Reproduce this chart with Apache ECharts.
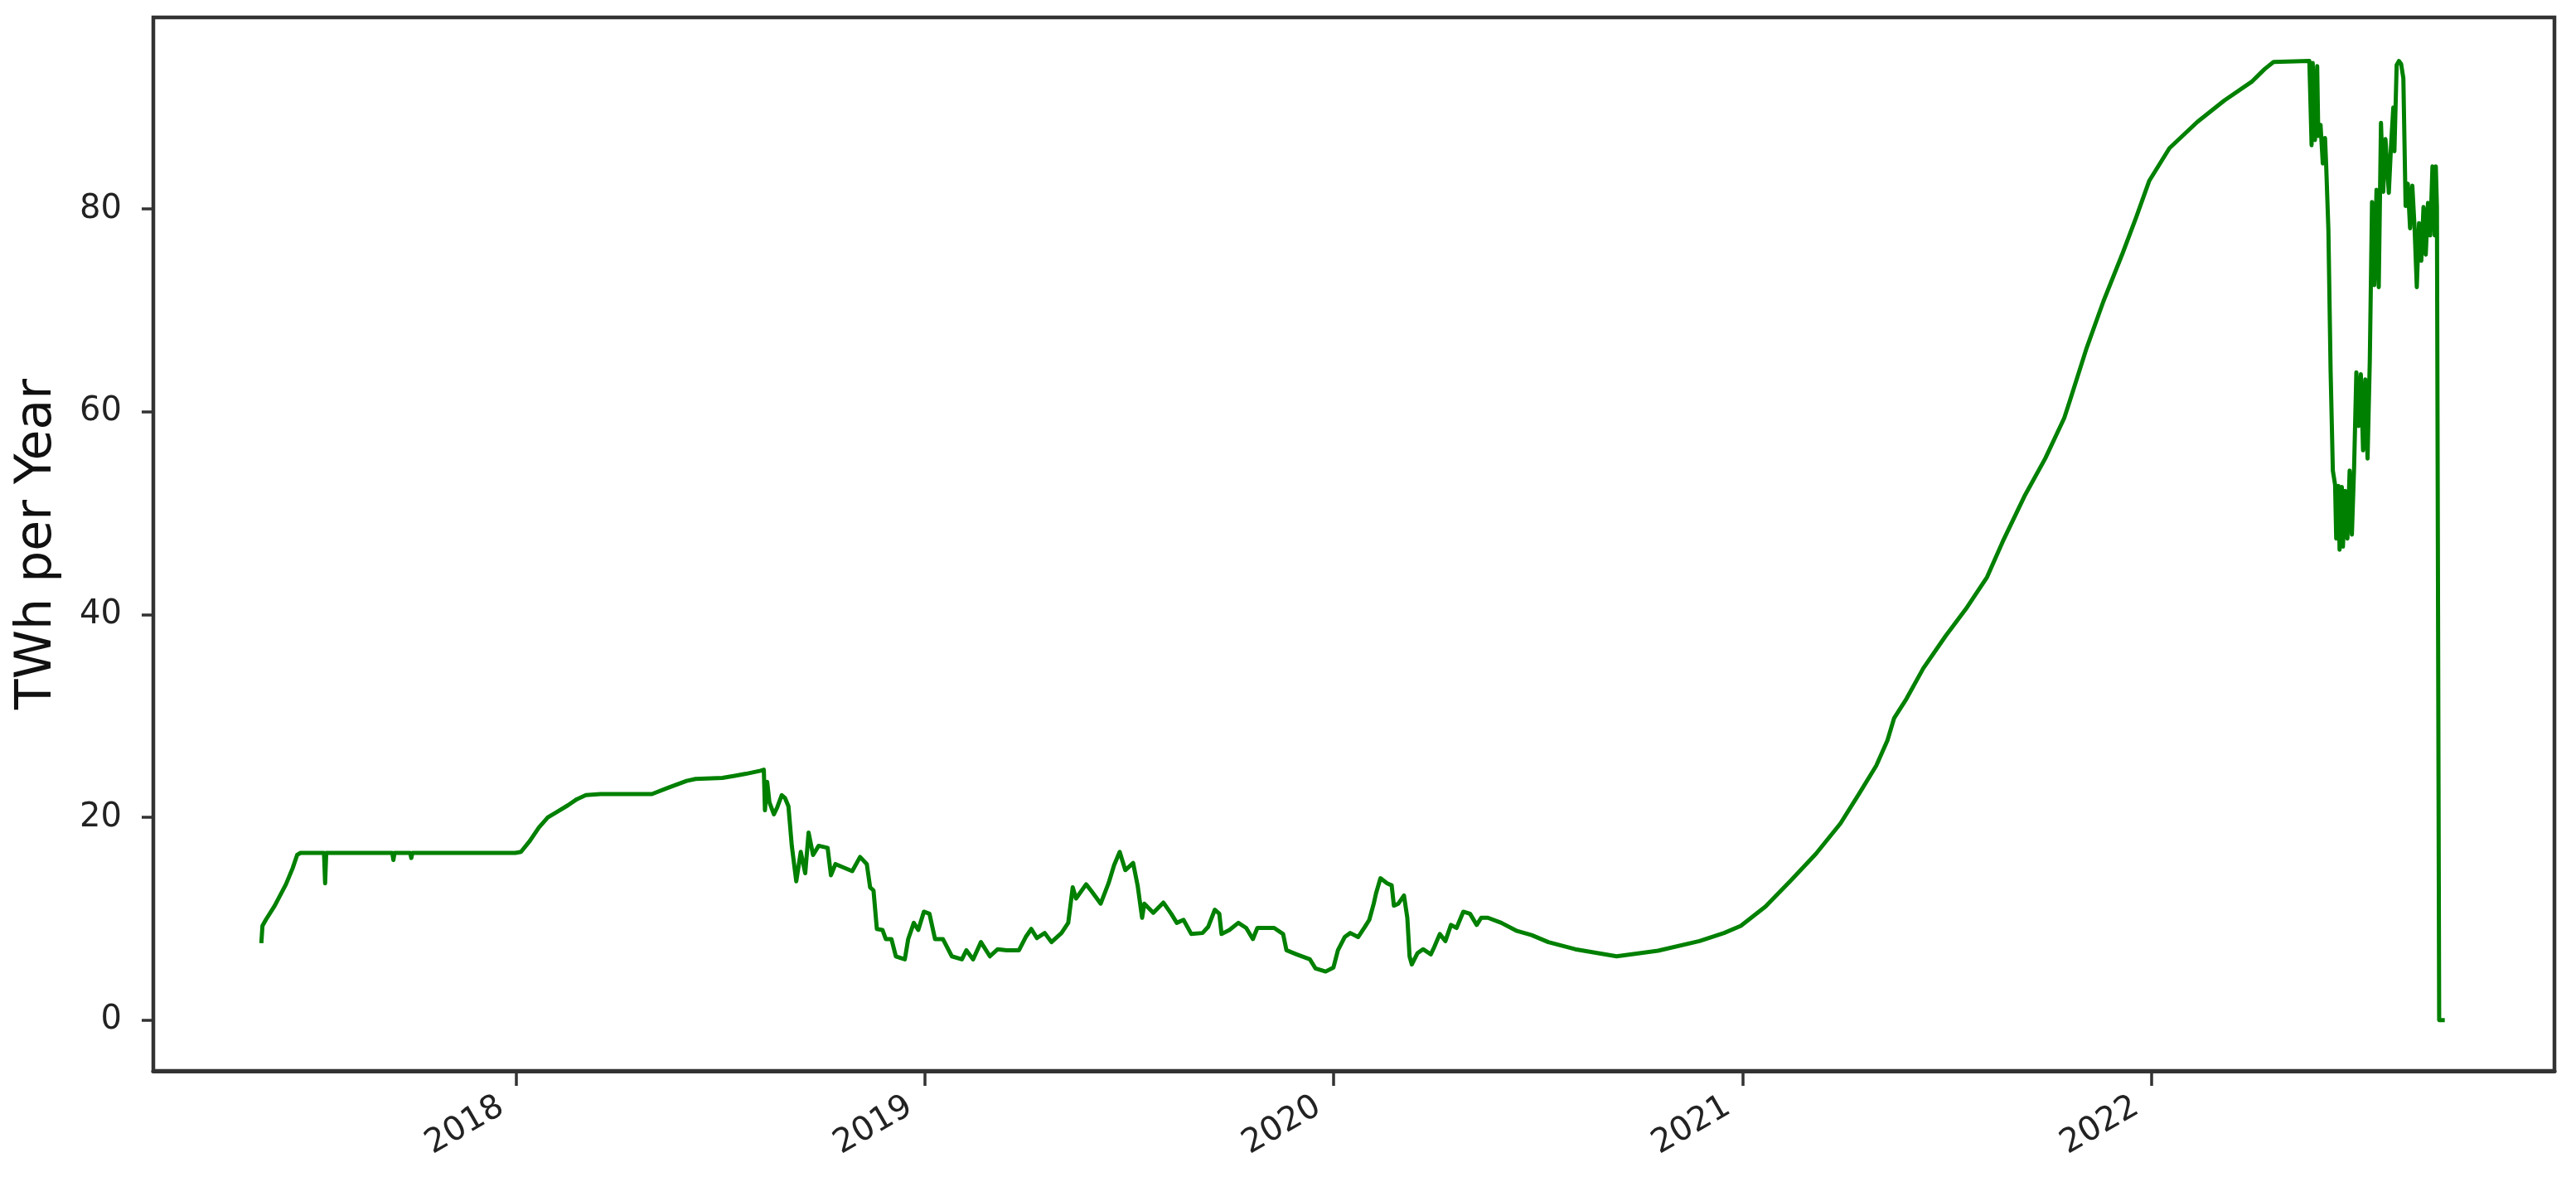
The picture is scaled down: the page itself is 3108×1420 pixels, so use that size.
<!DOCTYPE html>
<html>
<head>
<meta charset="utf-8">
<title>TWh per Year</title>
<script src="https://cdn.jsdelivr.net/npm/echarts@6/dist/echarts.min.js"></script>
<style>
  html, body { margin: 0; padding: 0; background: #fff; }
  #myChart { width: 3108px; height: 1420px; }
</style>
</head>
<body>
<div id="myChart"></div>
<script>
const dates = [
  "2017-05-18", "2017-05-19", "2017-05-22", "2017-05-30", "2017-06-09", "2017-06-15", "2017-06-19", "2017-06-22",
  "2017-07-13", "2017-07-14", "2017-07-15", "2017-09-12", "2017-09-13", "2017-09-14", "2017-09-28", "2017-09-29",
  "2017-09-30", "2017-12-31",
  "2018-01-05", "2018-01-13", "2018-01-21", "2018-01-29", "2018-02-07", "2018-02-16", "2018-02-24", "2018-03-04",
  "2018-03-17", "2018-05-02", "2018-05-16", "2018-06-02", "2018-06-10", "2018-07-04", "2018-07-15", "2018-07-25",
  "2018-08-07", "2018-08-10", "2018-08-11", "2018-08-13", "2018-08-15", "2018-08-19", "2018-08-22", "2018-08-26",
  "2018-08-29", "2018-09-01", "2018-09-04", "2018-09-08", "2018-09-12", "2018-09-16", "2018-09-19", "2018-09-23",
  "2018-09-28", "2018-10-06", "2018-10-09", "2018-10-13", "2018-10-28", "2018-11-04", "2018-11-10", "2018-11-13",
  "2018-11-16", "2018-11-19", "2018-11-24", "2018-11-27", "2018-12-02", "2018-12-06", "2018-12-14", "2018-12-17",
  "2018-12-22", "2018-12-26", "2018-12-31",
  "2019-01-05", "2019-01-10", "2019-01-17", "2019-01-25", "2019-02-03", "2019-02-07", "2019-02-13", "2019-02-20",
  "2019-02-28", "2019-03-07", "2019-03-15", "2019-03-26", "2019-04-01", "2019-04-06", "2019-04-11", "2019-04-18",
  "2019-04-24", "2019-05-03", "2019-05-09", "2019-05-13", "2019-05-16", "2019-05-25", "2019-05-30", "2019-06-07",
  "2019-06-14", "2019-06-19", "2019-06-24", "2019-06-29", "2019-07-06", "2019-07-10", "2019-07-14", "2019-07-16",
  "2019-07-24", "2019-08-02", "2019-08-09", "2019-08-14", "2019-08-20", "2019-08-27", "2019-09-06", "2019-09-11",
  "2019-09-17", "2019-09-21", "2019-09-23", "2019-09-30", "2019-10-08", "2019-10-15", "2019-10-21", "2019-10-25",
  "2019-11-09", "2019-11-17", "2019-11-20", "2019-11-29", "2019-12-11", "2019-12-16", "2019-12-25",
  "2020-01-01", "2020-01-05", "2020-01-11", "2020-01-16", "2020-01-23", "2020-01-29", "2020-02-02", "2020-02-06",
  "2020-02-08", "2020-02-12", "2020-02-18", "2020-02-22", "2020-02-24", "2020-02-28", "2020-03-04", "2020-03-07",
  "2020-03-09", "2020-03-11", "2020-03-16", "2020-03-21", "2020-03-28", "2020-03-31", "2020-04-05", "2020-04-10",
  "2020-04-15", "2020-04-20", "2020-04-26", "2020-05-02", "2020-05-08", "2020-05-12", "2020-05-18", "2020-05-30",
  "2020-06-13", "2020-06-26", "2020-07-11", "2020-08-04", "2020-09-10", "2020-10-17", "2020-11-23", "2020-12-15",
  "2020-12-30",
  "2021-01-21", "2021-02-12", "2021-03-07", "2021-03-29", "2021-04-15", "2021-04-30", "2021-05-10", "2021-05-16",
  "2021-05-27", "2021-06-11", "2021-07-01", "2021-07-20", "2021-08-07", "2021-08-21", "2021-09-10", "2021-09-28",
  "2021-10-15", "2021-10-20", "2021-11-04", "2021-11-19", "2021-12-06", "2021-12-18", "2021-12-30",
  "2022-01-17", "2022-02-11", "2022-03-07", "2022-04-01", "2022-04-12", "2022-04-20", "2022-05-22", "2022-05-24",
  "2022-05-25", "2022-05-27", "2022-05-29", "2022-05-30", "2022-06-01", "2022-06-03", "2022-06-05", "2022-06-06",
  "2022-06-08", "2022-06-10", "2022-06-12", "2022-06-14", "2022-06-15", "2022-06-17", "2022-06-18", "2022-06-20",
  "2022-06-21", "2022-06-23", "2022-06-25", "2022-06-27", "2022-06-29", "2022-07-01", "2022-07-03", "2022-07-05",
  "2022-07-07", "2022-07-09", "2022-07-11", "2022-07-13", "2022-07-15", "2022-07-17", "2022-07-19", "2022-07-21",
  "2022-07-23", "2022-07-25", "2022-07-27", "2022-07-29", "2022-08-01", "2022-08-03", "2022-08-05", "2022-08-06",
  "2022-08-08", "2022-08-10", "2022-08-12", "2022-08-14", "2022-08-16", "2022-08-18", "2022-08-20", "2022-08-22",
  "2022-08-24", "2022-08-26", "2022-08-28", "2022-08-30", "2022-09-01", "2022-09-03", "2022-09-05", "2022-09-07",
  "2022-09-09", "2022-09-11", "2022-09-12", "2022-09-13", "2022-09-15", "2022-09-20"
];

const twh = [
  7.6, 9.3, 9.9, 11.3, 13.4, 15.0, 16.3, 16.5,
  16.5, 13.5, 16.5, 16.5, 15.8, 16.5, 16.5, 16.0,
  16.5, 16.5,
  16.6, 17.7, 19.0, 20.0, 20.6, 21.2, 21.8, 22.2,
  22.3, 22.3, 22.9, 23.6, 23.8, 23.9, 24.1, 24.3,
  24.6, 24.7, 20.7, 23.5, 21.5, 20.3, 21.0, 22.2,
  21.9, 21.1, 17.2, 13.7, 16.6, 14.5, 18.5, 16.3,
  17.2, 17.0, 14.3, 15.4, 14.7, 16.1, 15.4, 13.1,
  12.8, 9.0, 8.9, 8.0, 8.0, 6.3, 6.0, 8.0,
  9.6, 8.9, 10.7,
  10.5, 8.0, 8.0, 6.3, 6.0, 6.9, 6.0, 7.7,
  6.3, 7.0, 6.9, 6.9, 8.2, 9.0, 8.1, 8.6,
  7.7, 8.6, 9.6, 13.1, 12.0, 13.4, 12.7, 11.5,
  13.5, 15.3, 16.6, 14.8, 15.5, 13.3, 10.1, 11.5,
  10.6, 11.6, 10.5, 9.6, 9.9, 8.5, 8.6, 9.2,
  10.9, 10.5, 8.5, 8.9, 9.6, 9.1, 8.0, 9.1,
  9.1, 8.5, 6.9, 6.5, 6.0, 5.1, 4.8,
  5.2, 6.9, 8.2, 8.6, 8.2, 9.2, 9.9, 11.5,
  12.5, 14.0, 13.5, 13.3, 11.3, 11.5, 12.3, 10.1,
  6.3, 5.5, 6.6, 7.0, 6.5, 7.2, 8.5, 7.8,
  9.4, 9.1, 10.7, 10.5, 9.4, 10.1, 10.1, 9.6,
  8.8, 8.4, 7.7, 7.0, 6.3, 6.85, 7.8, 8.6,
  9.3,
  11.2, 13.7, 16.4, 19.4, 22.4, 25.1, 27.6, 29.8,
  31.7, 34.7, 37.9, 40.7, 43.7, 47.2, 51.8, 55.4,
  59.4, 61.1, 66.3, 70.9, 75.6, 79.1, 82.8,
  86.0, 88.6, 90.7, 92.6, 93.8, 94.5, 94.6, 86.3,
  94.4, 86.8, 94.1, 87.2, 88.3, 84.5, 87.0, 84.4,
  78.0, 64.0, 54.2, 52.8, 47.5, 52.7, 46.4, 52.6,
  46.7, 52.2, 47.5, 54.2, 47.9, 54.6, 63.9, 58.6,
  63.7, 56.2, 63.2, 55.4, 65.0, 80.7, 72.5, 81.9,
  72.3, 88.5, 81.7, 86.9, 81.6, 86.3, 90.0, 85.7,
  94.2, 94.6, 94.3, 92.9, 80.3, 82.5, 78.1, 82.3,
  78.2, 72.3, 78.6, 74.9, 80.2, 75.5, 80.6, 77.4,
  84.2, 77.4, 84.2, 80.2, 0.0, 0.0
];

const yearTicks = ["2018-01-01", "2019-01-01", "2020-01-01", "2021-01-01", "2022-01-01"];
const valueTicks = [0, 20, 40, 60, 80];

const toUTC = function(s) {
  return Date.parse(s + "T00:00:00Z");
};

const drawEnergyChart = function() {
  const seriesData = dates.map((d, i) => [toUTC(d), twh[i]]);
  const xTicks = yearTicks.map(toUTC);

  const myChart = echarts.init(document.getElementById("myChart"));

  const option = {
    animation: false,
    backgroundColor: "#ffffff",
    grid: {
      left: 185,
      right: 26,
      top: 21,
      bottom: 128,
      containLabel: false,
      outerBoundsMode: "none",
      show: true,
      borderColor: "#333333",
      borderWidth: 4.5,
      backgroundColor: "transparent"
    },
    xAxis: {
      type: "value",
      min: Date.parse("2017-02-10T12:00:00Z"),
      max: Date.parse("2022-12-27T00:00:00Z"),
      splitLine: { show: false },
      axisLine: { onZero: false, lineStyle: { color: "#333333", width: 5 } },
      axisTick: {
        show: true,
        customValues: xTicks,
        length: 18,
        lineStyle: { color: "#333333", width: 3.5 }
      },
      minorTick: { show: false },
      axisLabel: {
        customValues: xTicks,
        rotate: 30,
        margin: 30,
        padding: [0, 21, 0, 0],
        fontFamily: "DejaVu Sans",
        fontSize: 40,
        color: "#222222",
        formatter: function(v) {
          return String(new Date(v).getUTCFullYear());
        }
      }
    },
    yAxis: {
      type: "value",
      min: -5,
      max: 98.9,
      name: "TWh per Year",
      nameLocation: "middle",
      nameGap: 110,
      nameTextStyle: {
        fontFamily: "DejaVu Sans",
        fontSize: 60,
        color: "#111111"
      },
      splitLine: { show: false },
      axisLine: { show: true, onZero: false, lineStyle: { color: "#333333", width: 4 } },
      axisTick: {
        show: true,
        customValues: valueTicks,
        length: 14,
        lineStyle: { color: "#333333", width: 3.5 }
      },
      axisLabel: {
        customValues: valueTicks,
        margin: 38,
        fontFamily: "DejaVu Sans",
        fontSize: 40,
        color: "#222222"
      }
    },
    series: [
      {
        name: "TWh per Year",
        type: "line",
        data: seriesData,
        showSymbol: false,
        symbol: "none",
        lineStyle: { color: "#008000", width: 5, join: "round" },
        itemStyle: { color: "#008000" }
      }
    ]
  };

  myChart.setOption(option);
};

drawEnergyChart();
</script>
</body>
</html>
